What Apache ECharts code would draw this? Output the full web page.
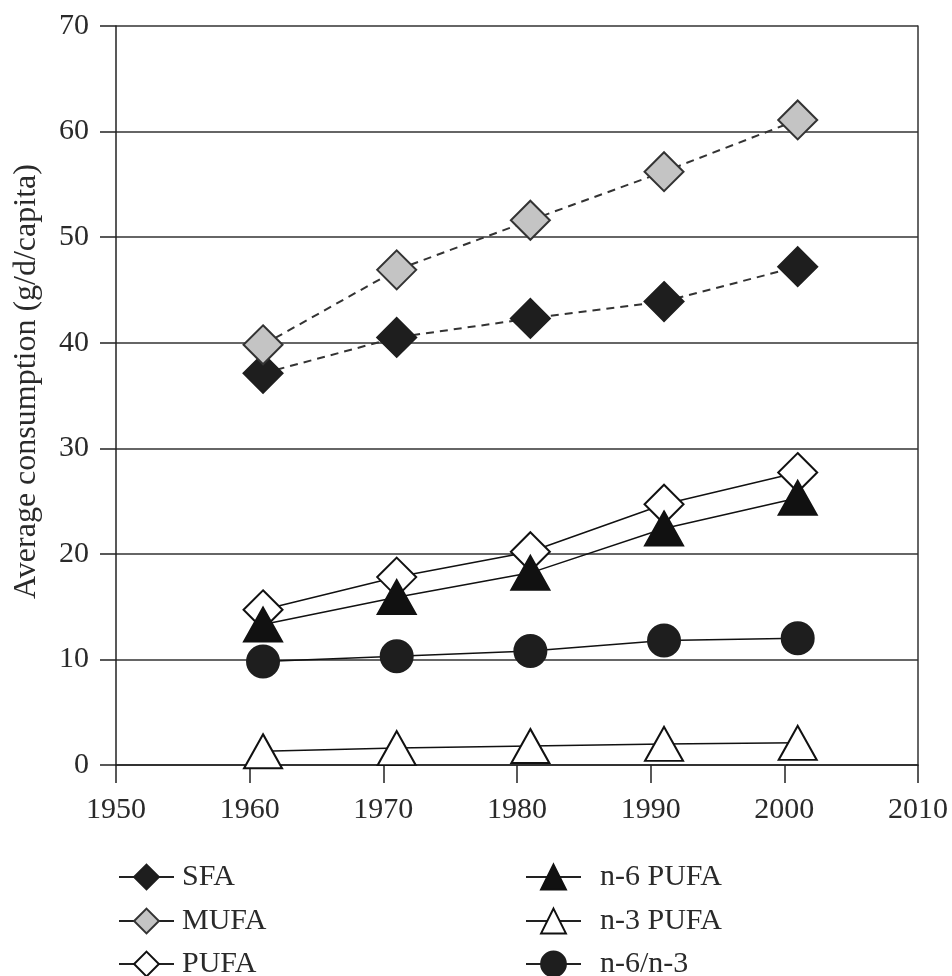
<!DOCTYPE html>
<html><head><meta charset="utf-8">
<script src="https://cdn.jsdelivr.net/npm/echarts@6/dist/echarts.min.js"></script>
<style>html,body{margin:0;padding:0;background:#fff}#c{width:952px;height:976px}</style>
</head><body><div id="c"></div>
<script>
const years = [1961, 1971, 1981, 1991, 2001];
const SFA = [37.1, 40.5, 42.3, 43.9, 47.2];
const MUFA = [39.8, 46.9, 51.6, 56.2, 61.1];
const PUFA = [14.7, 17.8, 20.2, 24.7, 27.7];
const n6PUFA = [13.3, 15.9, 18.2, 22.4, 25.3];
const n3PUFA = [1.3, 1.6, 1.8, 2.0, 2.1];
const n6n3 = [9.8, 10.3, 10.8, 11.8, 12.0];
const xTicks = [1950, 1960, 1970, 1980, 1990, 2000, 2010];
const yTicks = [0, 10, 20, 30, 40, 50, 60, 70];
const leftNames = ['SFA', 'MUFA', 'PUFA'];
const rightNames = ['n-6 PUFA', 'n-3 PUFA', 'n-6/n-3'];

const FONT = '"Liberation Serif", "DejaVu Serif", serif';
const TXT = '#2a2a2a';
const pair = a => years.map((y, i) => [y, a[i]]);

function mk(name, data, symbol, size, fill, border, dashed) {
  return {
    name, type: 'line', data: pair(data), symbol, symbolSize: size,
    lineStyle: { color: dashed ? '#333' : '#111', width: dashed ? 2 : 1.5, type: dashed ? [8, 6] : 'solid' },
    itemStyle: { color: fill, borderColor: border, borderWidth: 2 },
    emphasis: { disabled: true }, animation: false
  };
}

const rowTops = [857, 901, 944];
function legendFor(name, row, left, pad) {
  return {
    left, top: rowTops[row], orient: 'vertical', itemWidth: 55, itemHeight: 31,
    data: [name], selectedMode: false,
    textStyle: { fontFamily: FONT, fontSize: 30, color: TXT, padding: [0, 0, 0, pad] },
    lineStyle: { type: 'solid', width: 2, color: '#222' }
  };
}
const legends = [];
leftNames.forEach((n, i) => legends.push(legendFor(n, i, 113, 3)));
rightNames.forEach((n, i) => legends.push(legendFor(n, i, 520, 14)));

const chart = echarts.init(document.getElementById('c'), null, { renderer: 'canvas' });
chart.setOption({
  animation: false,
  grid: { left: 116, right: 34, top: 26, bottom: 211, outerBoundsMode: 'none', containLabel: false },
  xAxis: {
    type: 'value', min: xTicks[0], max: xTicks[xTicks.length - 1], interval: 10,
    axisLine: { show: true, onZero: false, lineStyle: { color: '#222', width: 1.5 } },
    axisTick: { show: true, length: 18, lineStyle: { color: '#222', width: 1.5 } },
    axisLabel: { fontFamily: FONT, fontSize: 30, color: TXT, margin: 30, formatter: v => String(v) },
    splitLine: { show: false }
  },
  yAxis: [{
    type: 'value', min: yTicks[0], max: yTicks[yTicks.length - 1], interval: 10,
    name: 'Average consumption (g/d/capita)', nameLocation: 'middle', nameGap: 73,
    nameTextStyle: { fontFamily: FONT, fontSize: 32, color: TXT, padding: [0, 0, 0, 28] },
    axisLine: { show: true, lineStyle: { color: '#222', width: 1.5 } },
    axisTick: { show: true, length: 16, lineStyle: { color: '#222', width: 1.5 } },
    axisLabel: { fontFamily: FONT, fontSize: 30, color: TXT, margin: 27, formatter: v => String(v) },
    splitLine: { show: true, lineStyle: { color: '#333', width: 1.5 } }
  }, {
    type: 'value', position: 'right', min: 0, max: 70, interval: 10,
    axisLine: { show: true, lineStyle: { color: '#333', width: 1.5 } },
    axisTick: { show: false }, axisLabel: { show: false }, splitLine: { show: false }
  }],
  legend: legends,
  series: [
    mk('SFA', SFA, 'diamond', 39, '#1e1e1e', '#1e1e1e', true),
    mk('MUFA', MUFA, 'diamond', 39, '#c4c4c4', '#333', true),
    mk('PUFA', PUFA, 'diamond', 39, '#ffffff', '#111', false),
    mk('n-6 PUFA', n6PUFA, 'triangle', [38, 34], '#111', '#111', false),
    mk('n-3 PUFA', n3PUFA, 'triangle', [38, 34], '#ffffff', '#111', false),
    mk('n-6/n-3', n6n3, 'circle', 32, '#1e1e1e', '#1e1e1e', false)
  ]
});
</script></body></html>
